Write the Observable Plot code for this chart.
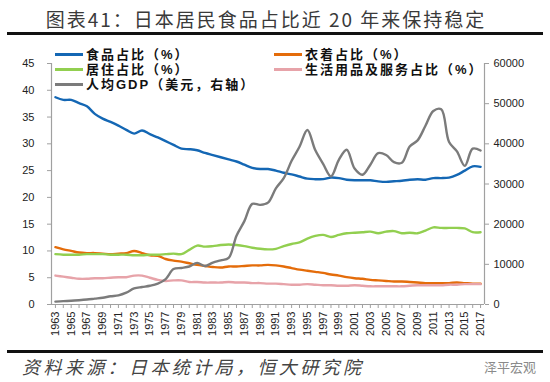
<!DOCTYPE html>
<html><head><meta charset="utf-8">
<script src="https://cdn.jsdelivr.net/npm/d3@7"></script>
<script src="https://cdn.jsdelivr.net/npm/@observablehq/plot@0.6"></script>
<style>
html,body{margin:0;padding:0;background:#fff;}
#wrap{position:relative;width:550px;height:382px;overflow:hidden;font-family:"Noto Sans CJK SC",sans-serif;}
#title{position:absolute;top:5px;left:-9px;width:550px;text-align:center;font-size:19px;letter-spacing:2px;color:#3a3a3a;}
.rule{position:absolute;left:7px;width:536px;height:3px;background:#111;}
#chart{position:absolute;top:40px;left:0;}
.lg{position:absolute;font-family:"Liberation Sans","Noto Sans CJK SC",sans-serif;font-size:13px;font-weight:bold;color:#111;white-space:nowrap;line-height:15px;letter-spacing:2px;}
.lg i{display:inline-block;width:28px;height:2.5px;vertical-align:middle;margin-right:3px;position:relative;top:-1px;}
#caption{position:absolute;top:353px;left:22px;font-size:18px;font-style:italic;letter-spacing:3.4px;color:#444;}
#wm{position:absolute;top:357px;left:484px;font-size:13px;color:#8a8a8a;}
</style></head>
<body><div id="wrap">
<div id="title">图表41：日本居民食品占比近 20 年来保持稳定</div>
<div class="rule" style="top:32px"></div>
<div id="chart"></div>
<div class="rule" style="top:350px"></div>
<div id="caption">资料来源：日本统计局，恒大研究院</div>
<div id="wm">泽平宏观</div>
</div>
<script>
const years = [1963,1964,1965,1966,1967,1968,1969,1970,1971,1972,1973,1974,1975,1976,1977,1978,1979,1980,1981,1982,1983,1984,1985,1986,1987,1988,1989,1990,1991,1992,1993,1994,1995,1996,1997,1998,1999,2000,2001,2002,2003,2004,2005,2006,2007,2008,2009,2010,2011,2012,2013,2014,2015,2016,2017];
const food = [38.7,38.2,38.2,37.6,37.0,35.6,34.7,34.1,33.4,32.6,31.9,32.5,31.8,31.2,30.5,29.8,29.1,29.0,28.8,28.3,27.9,27.5,27.1,26.7,26.1,25.5,25.3,25.3,25.0,24.6,24.3,23.9,23.5,23.4,23.4,23.7,23.6,23.3,23.2,23.2,23.2,23.0,22.9,23.0,23.1,23.3,23.4,23.3,23.6,23.6,23.7,24.2,25.0,25.8,25.7];
const clothing = [10.7,10.3,10.0,9.7,9.6,9.6,9.5,9.4,9.5,9.6,10.0,9.6,9.2,9.1,8.5,8.2,8.0,7.7,7.4,7.2,7.0,6.9,7.1,7.1,7.2,7.3,7.3,7.4,7.3,7.1,6.8,6.5,6.3,6.1,5.9,5.6,5.4,5.1,4.9,4.8,4.6,4.5,4.4,4.3,4.3,4.2,4.1,4.0,4.0,4.0,4.0,4.1,4.0,3.9,3.9];
const housing = [9.4,9.3,9.3,9.3,9.4,9.4,9.4,9.3,9.3,9.3,9.2,9.2,9.3,9.3,9.4,9.5,9.4,10.2,11.0,10.8,10.9,11.1,11.2,11.1,10.9,10.6,10.4,10.3,10.4,10.9,11.3,11.6,12.3,12.8,13.0,12.6,13.0,13.3,13.4,13.5,13.6,13.3,13.6,13.7,13.3,13.4,13.3,13.8,14.4,14.3,14.3,14.3,14.2,13.5,13.5];
const goods = [5.4,5.2,5.0,4.8,4.8,4.9,4.9,5.0,5.1,5.1,5.4,5.4,5.0,4.6,4.4,4.5,4.5,4.2,4.2,4.1,4.1,4.1,4.2,4.1,4.1,4.0,4.0,3.9,3.9,3.8,3.7,3.7,3.8,3.7,3.6,3.6,3.5,3.5,3.6,3.5,3.4,3.4,3.4,3.4,3.4,3.5,3.6,3.6,3.6,3.6,3.7,3.7,3.8,3.8,3.8];
const gdp = [720,840,920,1060,1230,1450,1670,2040,2270,2950,3990,4350,4660,5200,6340,8820,9100,9460,10360,9580,10430,10980,11580,17110,20750,25050,24810,25360,28920,31460,35770,39270,43440,38440,35020,31900,36030,38530,33850,32290,34810,37690,37220,35430,35280,39340,40860,44500,48170,48600,40450,38110,34520,38790,38330];
const leftTicks = [0,5,10,15,20,25,30,35,40,45];
const rightTicks = [0,10000,20000,30000,40000,50000,60000];
const seriesNames = ["食品占比（%）","衣着占比（%）","居住占比（%）","生活用品及服务占比（%）","人均GDP（美元，右轴）"];
const colors = ["#1467b4","#e46c0a","#92cf50","#e7a3a9","#7b7b7b"];

const LMAX = 45, RMAX = 60000;
const data = years.map((y,i)=>({year:y, food:food[i], clothing:clothing[i], housing:housing[i], goods:goods[i], gdp:gdp[i]*LMAX/RMAX}));
const keys = ["food","clothing","housing","goods","gdp"];
const font = "Liberation Sans, Arial, sans-serif";

const chart = Plot.plot({
  width: 550, height: 310,
  marginLeft: 51, marginRight: 66, marginTop: 23, marginBottom: 46,
  style: {fontFamily: font, fontSize: "11px", color: "#222", background: "transparent"},
  x: {domain: [1962.5, 2017.5]},
  y: {domain: [0, LMAX]},
  marks: [
    Plot.ruleX([1962.5], {stroke: "#a0a0a0", strokeWidth: 1.2}),
    Plot.ruleX([2017.5], {stroke: "#a0a0a0", strokeWidth: 1.2}),
    Plot.ruleY([0], {stroke: "#a0a0a0", strokeWidth: 1.2}),
    Plot.axisY({anchor: "left", ticks: leftTicks, tickSize: 4, tickPadding: 13, label: null, stroke: "#a0a0a0", fill: "#222"}),
    Plot.axisY({anchor: "right", ticks: rightTicks.map(v=>v*LMAX/RMAX), tickFormat: d => String(Math.round(d*RMAX/LMAX)), tickSize: 4, tickPadding: 5, label: null, stroke: "#a0a0a0", fill: "#222"}),
    Plot.axisX({ticks: years, tickFormat: d => d % 2 ? String(d) : "", tickRotate: -90, tickSize: 4, tickPadding: 3, label: null, stroke: "#a0a0a0", fill: "#222"}),
    ...keys.map((k,i)=>Plot.line(data, {x: "year", y: k, stroke: colors[i], strokeWidth: 2.4, curve: "catmull-rom"}))
  ]
});
document.getElementById("chart").appendChild(chart);

// legend
const pos = [[55,47],[274,47],[55,62],[274,62],[55,77]];
const wrap = document.getElementById("wrap");
seriesNames.forEach((n,i)=>{
  const d = document.createElement("div");
  d.className = "lg";
  d.style.left = pos[i][0]+"px";
  d.style.top = pos[i][1]+"px";
  d.innerHTML = `<i style="background:${colors[i]}"></i>${n}`;
  wrap.appendChild(d);
});
</script>
</body></html>
